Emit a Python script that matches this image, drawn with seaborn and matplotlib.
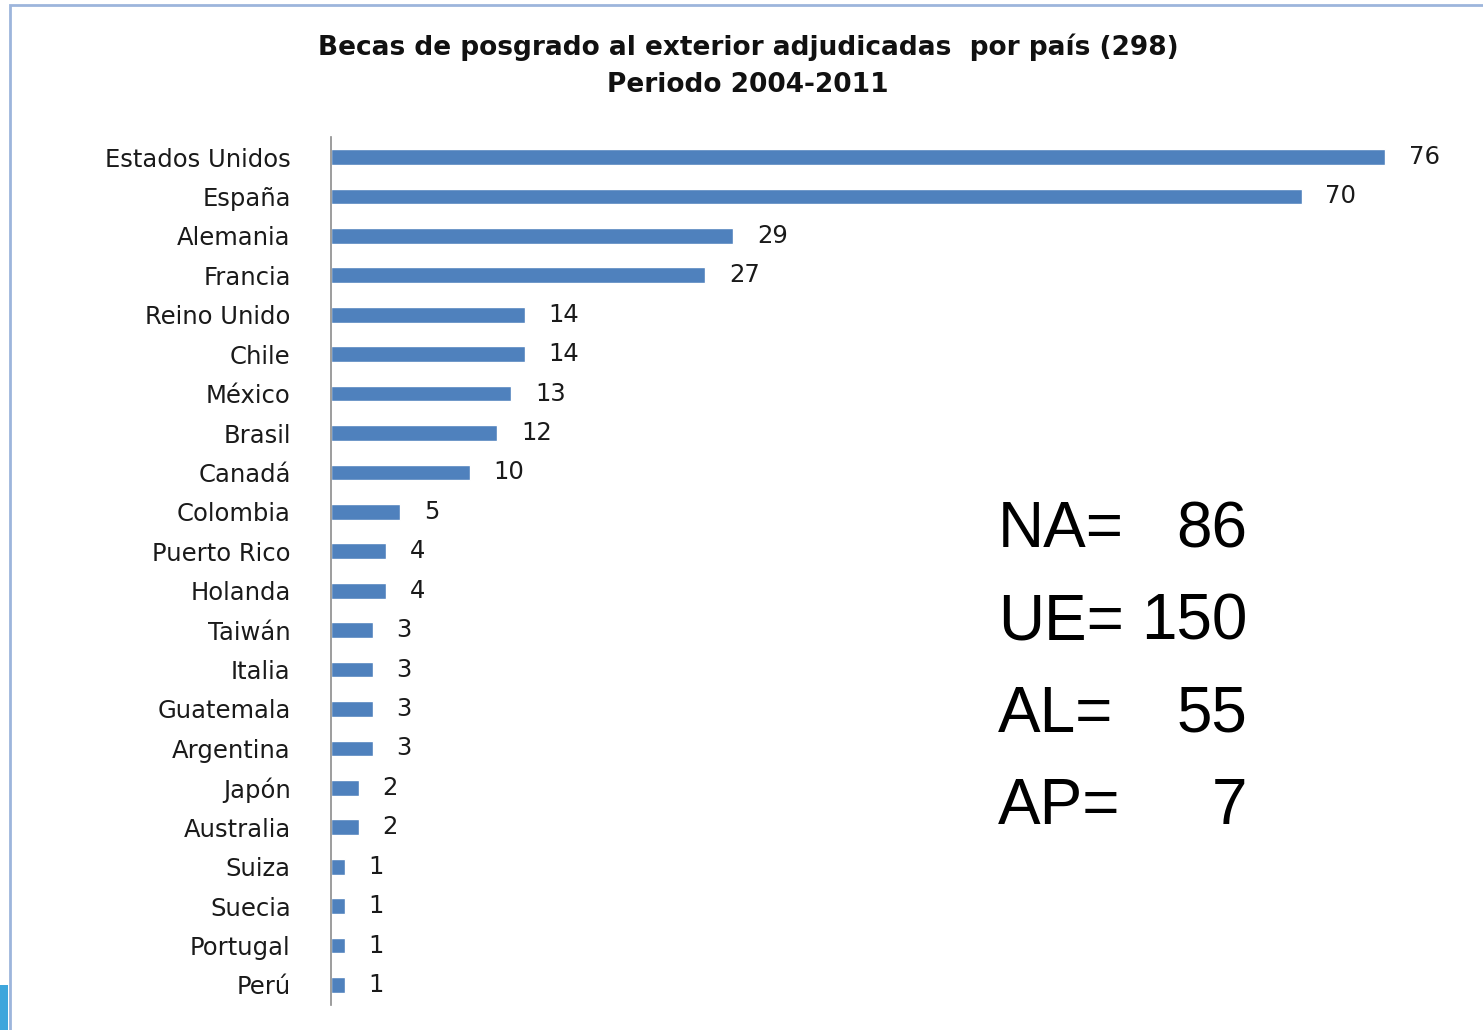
import pandas as pd
import matplotlib.pyplot as plt
import seaborn as sns
from matplotlib.patches import Rectangle

# Data
paises = ['Estados Unidos', 'España', 'Alemania', 'Francia', 'Reino Unido', 'Chile',
          'México', 'Brasil', 'Canadá', 'Colombia', 'Puerto Rico', 'Holanda',
          'Taiwán', 'Italia', 'Guatemala', 'Argentina', 'Japón', 'Australia',
          'Suiza', 'Suecia', 'Portugal', 'Perú']
becas = [76, 70, 29, 27, 14, 14, 13, 12, 10, 5, 4, 4, 3, 3, 3, 3, 2, 2, 1, 1, 1, 1]

regiones = ['NA=', 'UE=', 'AL=', 'AP=']
totales = ['86', '150', '55', '7']

df = pd.DataFrame({'Pais': paises, 'Becas': becas})

sns.set_style('white')
plt.rcParams['font.family'] = ['DejaVu Sans']

fig = plt.figure(figsize=(14.83, 10.30), dpi=100)
ax = fig.add_axes([331 / 1483, 1 - 1004.7 / 1030, 1129 / 1483, (1004.7 - 137.3) / 1030])

sns.barplot(data=df, y='Pais', x='Becas', orient='h', color='#4F81BD',
            width=0.4, saturation=1, ax=ax)

ax.set_xlim(0, 81.4)
ax.set_ylim(21.5, -0.5)
ax.set_xlabel('')
ax.set_ylabel('')
ax.set_xticks([])
ax.tick_params(axis='y', length=0, pad=29, labelsize=17.5, labelcolor='#1a1a1a')
for s in ['top', 'right', 'bottom']:
    ax.spines[s].set_visible(False)
ax.spines['left'].set_color('#8c8c8c')
ax.spines['left'].set_linewidth(1.2)

ax.bar_label(ax.containers[0], padding=17, fontsize=17.5, color='#1a1a1a')

# Title
fig.text(748 / 1483, 1 - 47 / 1030, 'Becas de posgrado al exterior adjudicadas  por país (298)',
         ha='center', va='center', fontsize=19, fontweight='bold', color='#111111')
fig.text(748 / 1483, 1 - 85 / 1030, 'Periodo 2004-2011',
         ha='center', va='center', fontsize=19, fontweight='bold', color='#111111')

# Regional totals
for i, (r, t) in enumerate(zip(regiones, totales)):
    y = 1 - (530 + i * 92.5) / 1030
    fig.text(998 / 1483, y, r, ha='left', va='center', fontsize=46,
             family=['Liberation Sans', 'DejaVu Sans'], color='black')
    fig.text(1247 / 1483, y, t, ha='right', va='center', fontsize=46,
             family=['Liberation Sans', 'DejaVu Sans'], color='black')

# Slide frame
fig.patches.append(Rectangle((10 / 1483, -0.01), 1.0, 1 - 5 / 1030 + 0.01,
                             transform=fig.transFigure, fill=False,
                             edgecolor='#9db5dc', linewidth=2))
fig.patches.append(Rectangle((0, 0), 8 / 1483, 45 / 1030, transform=fig.transFigure,
                             facecolor='#3ea6dc', edgecolor='none'))

fig.savefig('out.png', dpi=100)
